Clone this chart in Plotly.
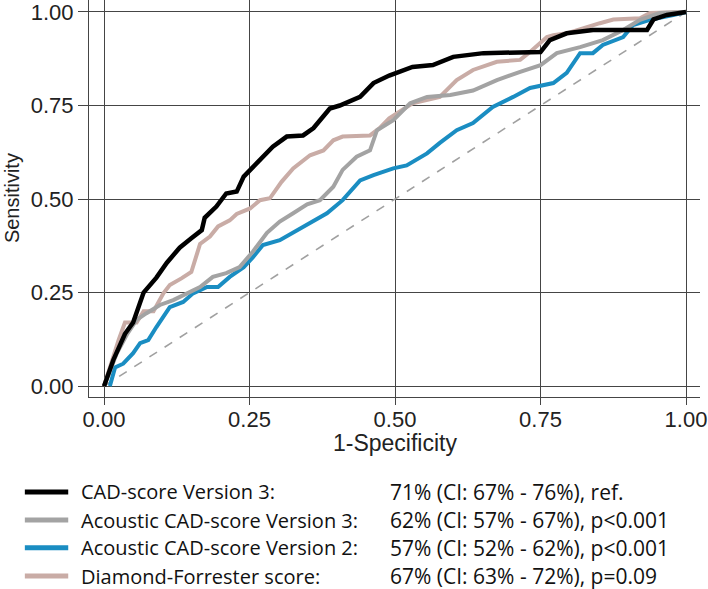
import plotly.graph_objects as go

# ---- data ----
tick_vals = [0.0, 0.25, 0.5, 0.75, 1.0]
tick_text = ["0.00", "0.25", "0.50", "0.75", "1.00"]

series_names = ["CAD-score Version 3:", "Acoustic CAD-score Version 3:",
                "Acoustic CAD-score Version 2:", "Diamond-Forrester score:"]
series_auc = ["71% (CI: 67% - 76%), ref.", "62% (CI: 57% - 67%), p<0.001",
              "57% (CI: 52% - 62%), p<0.001", "67% (CI: 63% - 72%), p=0.09"]
series_colors = ["#000000", "#a3a3a3", "#1a8dc2", "#c9aca6"]

black_x = [0, 0.016, 0.036, 0.05, 0.068, 0.09, 0.108, 0.13, 0.15, 0.168, 0.173, 0.193, 0.21, 0.228,
           0.24, 0.262, 0.29, 0.314, 0.342, 0.36, 0.388, 0.405, 0.44, 0.463, 0.49, 0.53, 0.565, 0.6,
           0.652, 0.75, 0.766, 0.795, 0.84, 0.933, 0.944, 0.967, 1.0]
black_y = [0, 0.07, 0.14, 0.17, 0.25, 0.29, 0.33, 0.37, 0.395, 0.417, 0.45, 0.48, 0.515, 0.52,
           0.56, 0.595, 0.64, 0.667, 0.67, 0.69, 0.742, 0.75, 0.773, 0.81, 0.83, 0.853, 0.858, 0.88,
           0.89, 0.893, 0.925, 0.943, 0.952, 0.952, 0.98, 0.992, 1.0]

grey_x = [0, 0.022, 0.04, 0.056, 0.073, 0.096, 0.119, 0.142, 0.165, 0.187, 0.21, 0.233, 0.256, 0.28,
          0.302, 0.325, 0.349, 0.371, 0.394, 0.41, 0.434, 0.457, 0.469, 0.497, 0.526, 0.555, 0.595,
          0.634, 0.675, 0.715, 0.75, 0.778, 0.818, 0.857, 0.892, 0.921, 0.955, 1.0]
grey_y = [0, 0.088, 0.14, 0.177, 0.195, 0.217, 0.23, 0.248, 0.265, 0.292, 0.302, 0.318, 0.36, 0.41,
          0.44, 0.462, 0.486, 0.497, 0.533, 0.578, 0.613, 0.63, 0.684, 0.711, 0.756, 0.773, 0.778,
          0.79, 0.818, 0.84, 0.858, 0.89, 0.906, 0.925, 0.952, 0.979, 0.997, 1.0]

blue_x = [0.01, 0.019, 0.033, 0.05, 0.062, 0.076, 0.09, 0.113, 0.136, 0.153, 0.177, 0.196, 0.216,
          0.24, 0.256, 0.273, 0.302, 0.325, 0.354, 0.383, 0.41, 0.44, 0.463, 0.497, 0.52, 0.555,
          0.577, 0.606, 0.634, 0.668, 0.703, 0.732, 0.772, 0.795, 0.818, 0.84, 0.857, 0.892, 0.909,
          0.938, 0.978, 1.0]
blue_y = [0, 0.05, 0.06, 0.088, 0.115, 0.123, 0.158, 0.211, 0.225, 0.248, 0.265, 0.265, 0.292,
          0.318, 0.345, 0.377, 0.39, 0.41, 0.435, 0.462, 0.497, 0.55, 0.564, 0.582, 0.59, 0.622,
          0.65, 0.684, 0.703, 0.746, 0.773, 0.797, 0.81, 0.837, 0.89, 0.89, 0.912, 0.933, 0.965,
          0.979, 0.992, 1.0]

rose_x = [0, 0.01, 0.025, 0.036, 0.056, 0.068, 0.085, 0.102, 0.113, 0.133, 0.15, 0.16, 0.165, 0.182,
          0.196, 0.216, 0.228, 0.251, 0.268, 0.285, 0.305, 0.325, 0.354, 0.377, 0.394, 0.41, 0.457,
          0.474, 0.49, 0.53, 0.577, 0.606, 0.634, 0.675, 0.715, 0.732, 0.761, 0.772, 0.795, 0.852,
          0.875, 0.921, 0.938, 1.0]
rose_y = [0, 0.05, 0.123, 0.17, 0.17, 0.2, 0.2, 0.248, 0.27, 0.288, 0.305, 0.355, 0.38, 0.4,
          0.427, 0.443, 0.46, 0.475, 0.497, 0.502, 0.546, 0.582, 0.617, 0.63, 0.657, 0.667, 0.67,
          0.69, 0.716, 0.756, 0.773, 0.818, 0.845, 0.867, 0.872, 0.893, 0.933, 0.938, 0.943, 0.97,
          0.98, 0.983, 0.997, 1.0]

diag = [0.0, 1.0]

fig = go.Figure()
fig.add_trace(go.Scatter(x=diag, y=diag, mode="lines",
                         line=dict(color="#a0a0a0", width=1.6, dash="dash"), showlegend=False))
curves = [(rose_x, rose_y, 3), (blue_x, blue_y, 2), (grey_x, grey_y, 1), (black_x, black_y, 0)]
for xs, ys, i in curves:
    fig.add_trace(go.Scatter(x=xs, y=ys, mode="lines", name=series_names[i],
                             line=dict(color=series_colors[i], width=4.5 if i == 0 else 4),
                             showlegend=False))

# custom two-column legend below the chart (paper coords; plot area = 611 x 397 px)
row_y = [-0.239, -0.310, -0.380, -0.451]
for i in range(4):
    fig.add_shape(type="line", xref="paper", yref="paper",
                  x0=-0.105, x1=-0.034, y0=row_y[i], y1=row_y[i],
                  line=dict(color=series_colors[i], width=5))
    fig.add_annotation(xref="paper", yref="paper", x=-0.016, y=row_y[i], text=series_names[i],
                       showarrow=False, xanchor="left", yanchor="middle",
                       font=dict(family="Open Sans", size=20, color="#111"))
    fig.add_annotation(xref="paper", yref="paper", x=0.49, y=row_y[i], text=series_auc[i],
                       showarrow=False, xanchor="left", yanchor="middle",
                       font=dict(family="Open Sans", size=21, color="#111"))

# axis titles
fig.add_annotation(xref="paper", yref="paper", x=0.5008, y=-0.116, text="1-Specificity",
                   showarrow=False, xanchor="center", yanchor="middle",
                   font=dict(family="Liberation Sans", size=23, color="#222"))
fig.add_annotation(xref="paper", yref="paper", x=-0.126, y=0.501, text="Sensitivity",
                   textangle=-90, showarrow=False, xanchor="center", yanchor="middle",
                   font=dict(family="Liberation Sans", size=20, color="#222"))

axis_common = dict(
    tickvals=tick_vals, ticktext=tick_text, showgrid=True, gridcolor="#454545", gridwidth=1,
    zeroline=False, showline=True, linecolor="#454545", linewidth=1,
    ticks="outside", tickcolor="#454545", automargin=False,
    ticklabeloverflow="allow",
    tickfont=dict(family="Liberation Sans", size=22, color="#222"),
)
fig.update_xaxes(range=[-0.0258, 1.024], ticklen=7, ticklabelstandoff=-4, **axis_common)
fig.update_yaxes(range=[-0.029, 1.032], ticklen=10, **axis_common)

fig.update_layout(
    width=708, height=589, margin=dict(l=89, r=8, t=0, b=192, pad=0),
    paper_bgcolor="white", plot_bgcolor="white", showlegend=False,
)
fig.write_html("out.html", config={"displayModeBar": False},
               post_script="document.body.style.margin='0px';")
